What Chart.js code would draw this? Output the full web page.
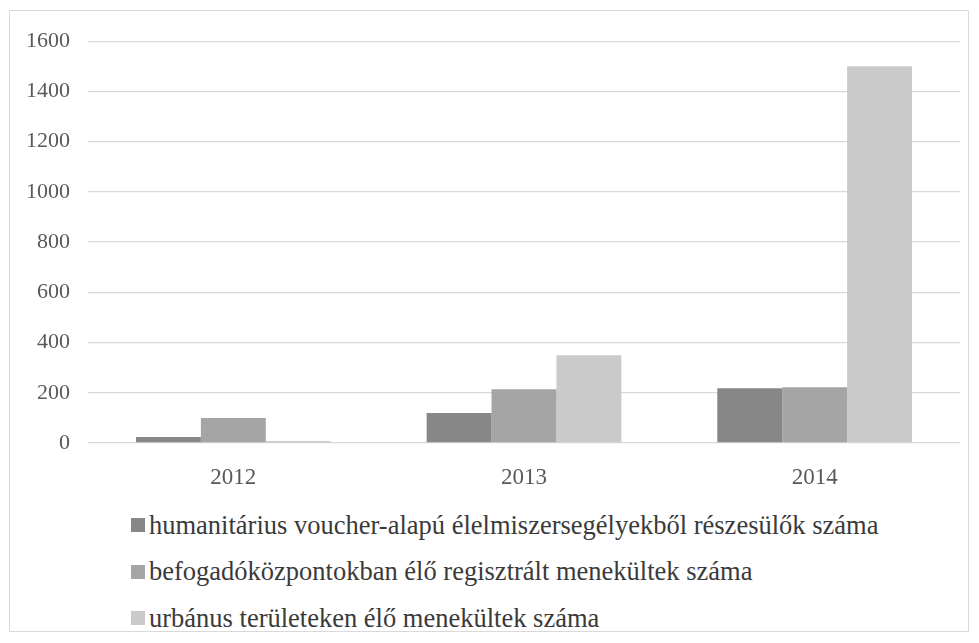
<!DOCTYPE html>
<html>
<head>
<meta charset="utf-8">
<script src="https://cdn.jsdelivr.net/npm/chart.js@4/dist/chart.umd.min.js"></script>
<style>
  html, body { margin: 0; padding: 0; background: #fff; }
  body { width: 979px; height: 643px; position: relative; overflow: hidden; font-family: 'Liberation Serif', serif; }
  #frame { position: absolute; left: 9px; top: 10px; width: 960px; height: 622px; border: 1px solid #d9d9d9; box-sizing: border-box; }
  #wrap { position: absolute; left: 10px; top: 10px; width: 959px; height: 490px; }
  #legend { position: absolute; left: 131px; top: 502px; font-family: 'Liberation Serif', serif; font-size: 26.5px; color: #3a3a3a; }
  #legend .item { height: 46.5px; display: flex; align-items: center; white-space: nowrap; }
  #legend .sw { width: 14px; height: 14px; margin-right: 4px; display: inline-block; }
</style>
</head>
<body>
<div id="frame"></div>
<div id="wrap"><canvas id="c"></canvas></div>
<div id="legend"></div>
<script>
const years = ['2012', '2013', '2014'];
const seriesNames = [
  'humanitárius voucher-alapú élelmiszersegélyekből részesülők száma',
  'befogadóközpontokban élő regisztrált menekültek száma',
  'urbánus területeken élő menekültek száma'
];
const voucherRecipients = [24, 119, 218];
const campRefugees = [100, 214, 222];
const urbanRefugees = [8, 349, 1500];
const yTicks = [0, 200, 400, 600, 800, 1000, 1200, 1400, 1600];
const colors = ['#878787', '#a5a5a5', '#cacaca'];

const seriesValues = [voucherRecipients, campRefugees, urbanRefugees];
const family = "'Liberation Serif', serif";

function draw() {
  const chart = new Chart(document.getElementById('c'), {
    type: 'bar',
    data: {
      labels: years,
      datasets: seriesNames.map((name, i) => ({
        label: name,
        data: seriesValues[i],
        backgroundColor: colors[i],
        borderWidth: 0,
        categoryPercentage: 0.67,
        barPercentage: 1.0
      }))
    },
    options: {
      responsive: true,
      maintainAspectRatio: false,
      animation: false,
      layout: { padding: { left: 0, right: 9, top: 30, bottom: 0 } },
      plugins: { legend: { display: false }, tooltip: { enabled: false } },
      scales: {
        x: {
          grid: { display: false },
          border: { display: false },
          ticks: { font: { family: family, size: 23 }, color: '#595959', padding: 13 },
          afterFit: s => { s.height = 57; }
        },
        y: {
          min: 0,
          max: 1600,
          afterBuildTicks: s => { s.ticks = yTicks.map(v => ({ value: v })); },
          grid: { color: '#d9d9d9', lineWidth: 1.3, drawTicks: false },
          border: { display: false },
          ticks: {
            font: { family: family, size: 22 },
            color: '#595959',
            padding: 18,
            callback: v => String(v)
          },
          afterFit: s => { s.width = 78; }
        }
      }
    }
  });

  // legend rows built from the chart's datasets
  const legendEl = document.getElementById('legend');
  chart.data.datasets.forEach(ds => {
    const row = document.createElement('div');
    row.className = 'item';
    const sw = document.createElement('span');
    sw.className = 'sw';
    sw.style.background = ds.backgroundColor;
    row.appendChild(sw);
    row.appendChild(document.createTextNode(ds.label));
    legendEl.appendChild(row);
  });
}

document.fonts.load("22px 'Liberation Serif'").then(draw, draw);
</script>
</body>
</html>
